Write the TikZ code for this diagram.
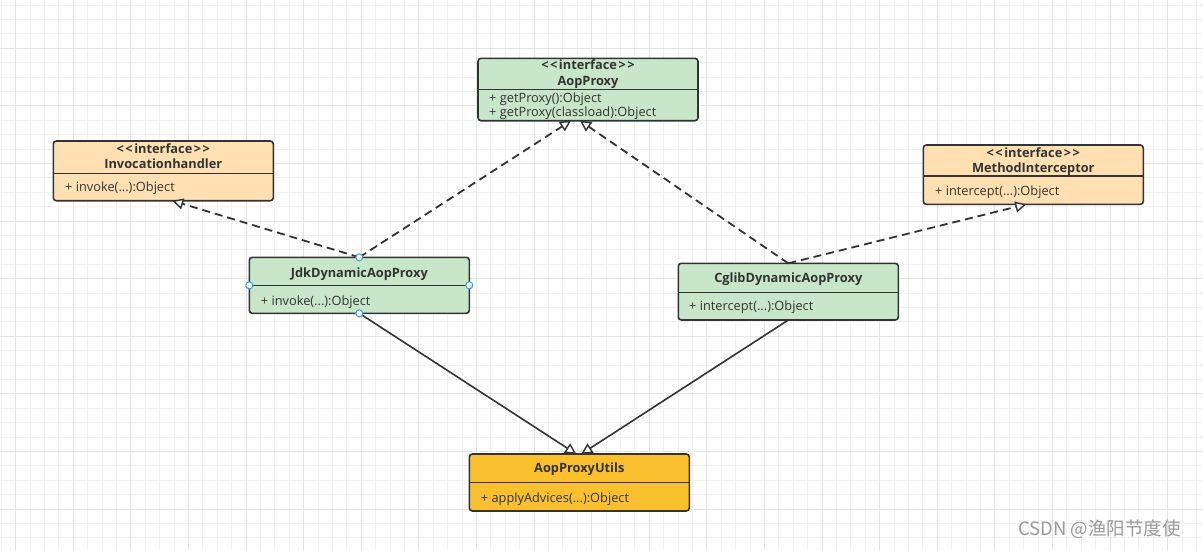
\documentclass[tikz,border=0pt]{standalone}
\usepackage{fontspec}
\setmainfont{Open Sans}
\newfontfamily\cjk{Noto Sans CJK SC}
\usetikzlibrary{arrows.meta}
\definecolor{gridminor}{HTML}{F2F2F2}
\definecolor{gridmajor}{HTML}{E6E6E6}
\definecolor{umlgreen}{HTML}{C8E6C9}
\definecolor{umlorange}{HTML}{FFE0B2}
\definecolor{umlyellow}{HTML}{FBC02D}
\definecolor{umlline}{HTML}{333333}
\definecolor{umltext}{HTML}{333333}
\definecolor{handlecol}{HTML}{2E9BF0}
\definecolor{wmcol}{HTML}{9A9A9A}
\newcommand{\stereotext}{<\kern1.5pt<\kern1.5pt interface\kern1.5pt>\kern1.5pt>}
\begin{document}
\begin{tikzpicture}[x=1pt,y=-1pt,
  classbox/.style={draw=umlline, line width=1.6pt, rounded corners=3pt, inner sep=0pt, outer sep=0pt, anchor=north west, minimum width=220pt},
  sepline/.style={draw=umlline, line width=1.5pt},
  title/.style={font=\fontsize{12.8}{14}\selectfont\bfseries, text=umltext, inner sep=0pt, text height=9pt, text depth=1.4pt},
  member/.style={font=\fontsize{12.8}{14}\selectfont, text=umltext, inner sep=0pt, anchor=west, text height=9pt, text depth=1.4pt},
  realize/.style={draw=umlline, line width=1.8pt, dash pattern=on 8pt off 5pt, -{Triangle[fill=white, length=11pt, width=11pt, line width=1.4pt]}},
  assoc/.style={draw=umlline, line width=1.6pt, -{Triangle[fill=white, length=11pt, width=11pt, line width=1.4pt]}},
  handlept/.style={circle, draw=handlecol, fill=white, line width=1pt, inner sep=0pt, minimum size=7pt}
]
\useasboundingbox (0,0) rectangle (1203,550);
\fill[white] (0,0) rectangle (1203,550);
% grid
\foreach \i in {0,...,83}{\pgfmathsetmacro\gx{1.3+14.4*\i}\draw[gridminor, line width=0.9pt] (\gx,0) -- (\gx,550);}
\foreach \k in {0,...,37}{\pgfmathsetmacro\gy{5+14.4*\k}\draw[gridminor, line width=0.9pt] (0,\gy) -- (1203,\gy);}
\foreach \i in {1,5,...,81}{\pgfmathsetmacro\gx{1.3+14.4*\i}\draw[gridmajor, line width=0.9pt] (\gx,0) -- (\gx,550);}
\foreach \k in {3,7,...,35}{\pgfmathsetmacro\gy{5+14.4*\k}\draw[gridmajor, line width=0.9pt] (0,\gy) -- (1203,\gy);}

% AopProxy
\node[classbox, fill=umlgreen, minimum height=62.4pt] (aop) at (478,58.3) {};
\coordinate (aopsep) at (0,89.3);
\draw[sepline] (aop.west |- aopsep) -- (aop.east |- aopsep);
\node[title] (aopS) at (588,66) {\stereotext};
\node[title] (aopT) at (588,81.7) {AopProxy};
\node[member] (aopM1) at (489,98.3) {+ getProxy():Object};
\node[member] (aopM2) at (489,112.3) {+ getProxy(classload):Object};

% Invocationhandler
\node[classbox, fill=umlorange, minimum height=59.7pt] (inv) at (53.3,141) {};
\coordinate (invsep) at (0,173.3);
\draw[sepline] (inv.west |- invsep) -- (inv.east |- invsep);
\node[title] (invS) at (163.3,150) {\stereotext};
\node[title] (invT) at (163.3,164.3) {Invocationhandler};
\node[member] (invM) at (65,187.3) {+ invoke(...):Object};

% MethodInterceptor
\node[classbox, fill=umlorange, minimum height=59.3pt] (mi) at (923.3,145) {};
\coordinate (misep) at (0,176);
\draw[sepline] (mi.west |- misep) -- (mi.east |- misep);
\node[title] (miS) at (1033.3,153.3) {\stereotext};
\node[title] (miT) at (1033.3,168.3) {MethodInterceptor};
\node[member] (miM) at (935,191.7) {+ intercept(...):Object};

% JdkDynamicAopProxy
\node[classbox, fill=umlgreen, minimum height=56pt] (jdk) at (249.3,257.3) {};
\coordinate (jdksep) at (0,285.7);
\draw[sepline] (jdk.west |- jdksep) -- (jdk.east |- jdksep);
\node[title] (jdkT) at (359.3,273.3) {JdkDynamicAopProxy};
\node[member] (jdkM) at (260.7,301.7) {+ invoke(...):Object};

% CglibDynamicAopProxy
\node[classbox, fill=umlgreen, minimum height=56.7pt] (cglib) at (678.3,263.3) {};
\coordinate (cglibsep) at (0,292.7);
\draw[sepline] (cglib.west |- cglibsep) -- (cglib.east |- cglibsep);
\node[title] (cglibT) at (788.3,279) {CglibDynamicAopProxy};
\node[member] (cglibM) at (689,306.7) {+ intercept(...):Object};

% AopProxyUtils
\node[classbox, fill=umlyellow, minimum height=57pt] (utils) at (469.3,454) {};
\coordinate (utilssep) at (0,482.3);
\draw[sepline] (utils.west |- utilssep) -- (utils.east |- utilssep);
\node[title] (utilsT) at (579.3,469) {AopProxyUtils};
\node[member] (utilsM) at (480.7,498.3) {+ applyAdvices(...):Object};

% connectors
\draw[realize] (jdk.north) -- ([xshift=-17pt]aop.south);
\draw[realize] (cglib.north) -- ([xshift=-8pt]aop.south);
\draw[realize] (jdk.north) -- ([xshift=9pt]inv.south);
\draw[realize] (cglib.north) -- ([xshift=-7pt]mi.south);
\draw[assoc] (jdk.south) -- ([xshift=-3pt]utils.north);
\draw[assoc] (cglib.south) -- ([xshift=2pt]utils.north);

% selection handles
\node[handlept] (h1) at (jdk.north) {};
\node[handlept] (h2) at (jdk.west) {};
\node[handlept] (h3) at (jdk.east) {};
\node[handlept] (h4) at (jdk.south) {};

% watermark
\node[anchor=west, font=\cjk\fontsize{18.5}{21}\selectfont, text=wmcol, inner sep=0pt] (wmark) at (1018,529) {CSDN @渔阳节度使};
\end{tikzpicture}
\end{document}
